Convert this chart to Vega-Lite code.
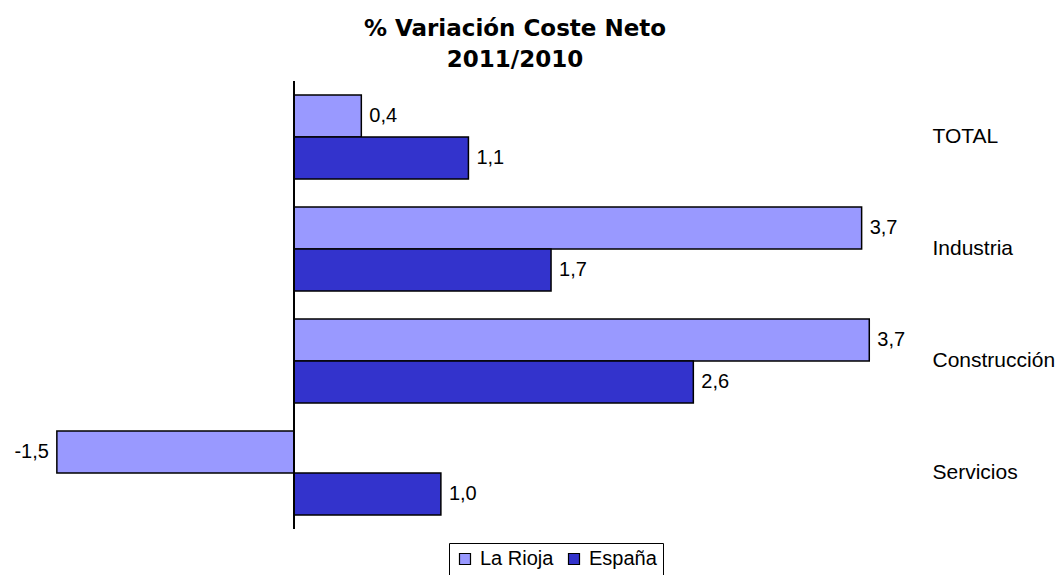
{
  "$schema": "https://vega.github.io/schema/vega-lite/v6.json",
  "width": 920,
  "height": 448,
  "autosize": "none",
  "padding": {"left": 0, "top": 81, "right": 141, "bottom": 46},
  "background": "white",
  "config": {"view": {"stroke": null}},
  "title": {
    "text": ["% Variación Coste Neto", "2011/2010"],
    "font": "DejaVu Sans",
    "fontSize": 23,
    "fontWeight": "bold",
    "lineHeight": 31,
    "color": "black",
    "anchor": "middle",
    "dx": 55,
    "offset": 9
  },
  "data": {
    "values": [
      {"cat": "TOTAL", "serie": "La Rioja", "value": 0.44, "label": "0,4"},
      {"cat": "TOTAL", "serie": "España", "value": 1.14, "label": "1,1"},
      {"cat": "Industria", "serie": "La Rioja", "value": 3.71, "label": "3,7"},
      {"cat": "Industria", "serie": "España", "value": 1.68, "label": "1,7"},
      {"cat": "Construcción", "serie": "La Rioja", "value": 3.76, "label": "3,7"},
      {"cat": "Construcción", "serie": "España", "value": 2.61, "label": "2,6"},
      {"cat": "Servicios", "serie": "La Rioja", "value": -1.55, "label": "-1,5"},
      {"cat": "Servicios", "serie": "España", "value": 0.96, "label": "1,0"}
    ]
  },
  "encoding": {
    "y": {
      "field": "cat",
      "type": "nominal",
      "sort": ["TOTAL", "Industria", "Construcción", "Servicios"],
      "scale": {"paddingInner": 0.25, "paddingOuter": 0.125},
      "axis": {
        "orient": "right",
        "title": null,
        "ticks": false,
        "domain": false,
        "labelPadding": 12,
        "labelAlign": "left",
        "labelFont": "Liberation Sans",
        "labelFontSize": 21,
        "labelColor": "black"
      }
    },
    "yOffset": {"field": "serie", "type": "nominal", "sort": ["La Rioja", "España"]}
  },
  "layer": [
    {
      "mark": {"type": "bar", "stroke": "black", "strokeWidth": 1.5},
      "encoding": {
        "x": {
          "field": "value",
          "type": "quantitative",
          "scale": {"domain": [-1.9216, 4.0915], "nice": false, "zero": false},
          "axis": null
        },
        "color": {
          "field": "serie",
          "type": "nominal",
          "scale": {"domain": ["La Rioja", "España"], "range": ["#9999FF", "#3333CC"]},
          "legend": {
            "orient": "none",
            "legendX": 449,
            "legendY": 462,
            "direction": "horizontal",
            "title": null,
            "strokeColor": "black",
            "padding": 6,
            "symbolType": "square",
            "symbolSize": 121,
            "symbolStrokeColor": "black",
            "symbolStrokeWidth": 1.2,
            "symbolOpacity": 1,
            "labelFont": "Liberation Sans",
            "labelFontSize": 20,
            "labelColor": "black",
            "columnPadding": 10,
            "labelOffset": 5
          }
        }
      }
    },
    {
      "mark": {"type": "rule", "color": "black", "strokeWidth": 1},
      "encoding": {"x": {"datum": 0, "type": "quantitative"}, "y": null, "yOffset": null}
    },
    {
      "transform": [{"filter": "datum.value >= 0"}],
      "mark": {"type": "text", "align": "left", "dx": 8, "font": "Liberation Sans", "fontSize": 20, "color": "black"},
      "encoding": {
        "x": {"field": "value", "type": "quantitative"},
        "text": {"field": "label"}
      }
    },
    {
      "transform": [{"filter": "datum.value < 0"}],
      "mark": {"type": "text", "align": "right", "dx": -8, "font": "Liberation Sans", "fontSize": 20, "color": "black"},
      "encoding": {
        "x": {"field": "value", "type": "quantitative"},
        "text": {"field": "label"}
      }
    }
  ]
}
